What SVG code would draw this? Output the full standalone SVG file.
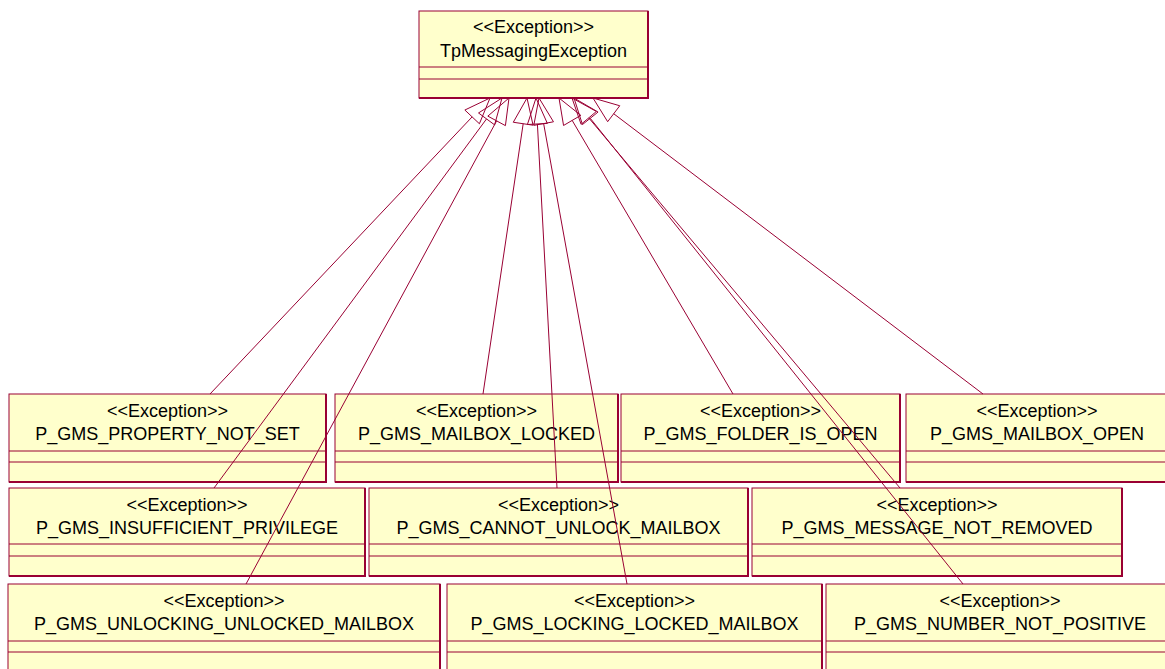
<svg xmlns="http://www.w3.org/2000/svg" width="1165" height="669" viewBox="0 0 1165 669">
<style>
.box{fill:#FFFFCC;stroke:#990033;stroke-width:1}
.sh{fill:none;stroke:#990033;stroke-width:2}
.sep{stroke:#990033;stroke-width:1}
.t{font-family:"Liberation Sans",Arial,sans-serif;font-size:18px;fill:#000;text-anchor:middle}
.ln{stroke:#990033;stroke-width:1;fill:none}
.ah{stroke:#990033;stroke-width:1;fill:none}
</style>
<rect width="1165" height="669" fill="#fff"/>
<g id="TpMessagingException">
<rect class="box" x="419" y="11" width="229" height="87"/>
<polyline class="sh" points="648,11 648,98 419,98"/>
<line class="sep" x1="419" y1="67" x2="648" y2="67"/><line class="sep" x1="419" y1="79" x2="648" y2="79"/>
<text class="t" x="533.5" y="33">&lt;&lt;Exception&gt;&gt;</text>
<text class="t" x="533.5" y="57">TpMessagingException</text>
</g>
<g id="P_GMS_PROPERTY_NOT_SET">
<rect class="box" x="9" y="394" width="317" height="88"/>
<polyline class="sh" points="326,394 326,482 9,482"/>
<line class="sep" x1="9" y1="451" x2="326" y2="451"/><line class="sep" x1="9" y1="462" x2="326" y2="462"/>
<text class="t" x="167.5" y="417">&lt;&lt;Exception&gt;&gt;</text>
<text class="t" x="167.5" y="440">P_GMS_PROPERTY_NOT_SET</text>
</g>
<g id="P_GMS_MAILBOX_LOCKED">
<rect class="box" x="335" y="394" width="283" height="88"/>
<polyline class="sh" points="618,394 618,482 335,482"/>
<line class="sep" x1="335" y1="451" x2="618" y2="451"/><line class="sep" x1="335" y1="462" x2="618" y2="462"/>
<text class="t" x="476.5" y="417">&lt;&lt;Exception&gt;&gt;</text>
<text class="t" x="476.5" y="440">P_GMS_MAILBOX_LOCKED</text>
</g>
<g id="P_GMS_FOLDER_IS_OPEN">
<rect class="box" x="621" y="394" width="279" height="88"/>
<polyline class="sh" points="900,394 900,482 621,482"/>
<line class="sep" x1="621" y1="451" x2="900" y2="451"/><line class="sep" x1="621" y1="462" x2="900" y2="462"/>
<text class="t" x="760.5" y="417">&lt;&lt;Exception&gt;&gt;</text>
<text class="t" x="760.5" y="440">P_GMS_FOLDER_IS_OPEN</text>
</g>
<g id="P_GMS_MAILBOX_OPEN">
<rect class="box" x="906" y="394" width="262" height="88"/>
<polyline class="sh" points="1168,394 1168,482 906,482"/>
<line class="sep" x1="906" y1="451" x2="1168" y2="451"/><line class="sep" x1="906" y1="462" x2="1168" y2="462"/>
<text class="t" x="1037" y="417">&lt;&lt;Exception&gt;&gt;</text>
<text class="t" x="1037" y="440">P_GMS_MAILBOX_OPEN</text>
</g>
<g id="P_GMS_INSUFFICIENT_PRIVILEGE">
<rect class="box" x="9" y="488" width="356" height="88"/>
<polyline class="sh" points="365,488 365,576 9,576"/>
<line class="sep" x1="9" y1="544" x2="365" y2="544"/><line class="sep" x1="9" y1="556" x2="365" y2="556"/>
<text class="t" x="187" y="511">&lt;&lt;Exception&gt;&gt;</text>
<text class="t" x="187" y="534">P_GMS_INSUFFICIENT_PRIVILEGE</text>
</g>
<g id="P_GMS_CANNOT_UNLOCK_MAILBOX">
<rect class="box" x="369" y="488" width="379" height="88"/>
<polyline class="sh" points="748,488 748,576 369,576"/>
<line class="sep" x1="369" y1="544" x2="748" y2="544"/><line class="sep" x1="369" y1="556" x2="748" y2="556"/>
<text class="t" x="558.5" y="511">&lt;&lt;Exception&gt;&gt;</text>
<text class="t" x="558.5" y="534">P_GMS_CANNOT_UNLOCK_MAILBOX</text>
</g>
<g id="P_GMS_MESSAGE_NOT_REMOVED">
<rect class="box" x="752" y="488" width="370" height="88"/>
<polyline class="sh" points="1122,488 1122,576 752,576"/>
<line class="sep" x1="752" y1="544" x2="1122" y2="544"/><line class="sep" x1="752" y1="556" x2="1122" y2="556"/>
<text class="t" x="937" y="511">&lt;&lt;Exception&gt;&gt;</text>
<text class="t" x="937" y="534">P_GMS_MESSAGE_NOT_REMOVED</text>
</g>
<g id="P_GMS_UNLOCKING_UNLOCKED_MAILBOX">
<rect class="box" x="8" y="584" width="432" height="88"/>
<polyline class="sh" points="440,584 440,672"/>
<line class="sep" x1="8" y1="641" x2="440" y2="641"/><line class="sep" x1="8" y1="652" x2="440" y2="652"/>
<text class="t" x="224" y="607">&lt;&lt;Exception&gt;&gt;</text>
<text class="t" x="224" y="630">P_GMS_UNLOCKING_UNLOCKED_MAILBOX</text>
</g>
<g id="P_GMS_LOCKING_LOCKED_MAILBOX">
<rect class="box" x="447" y="584" width="375" height="88"/>
<polyline class="sh" points="822,584 822,672"/>
<line class="sep" x1="447" y1="641" x2="822" y2="641"/><line class="sep" x1="447" y1="652" x2="822" y2="652"/>
<text class="t" x="634.5" y="607">&lt;&lt;Exception&gt;&gt;</text>
<text class="t" x="634.5" y="630">P_GMS_LOCKING_LOCKED_MAILBOX</text>
</g>
<g id="P_GMS_NUMBER_NOT_POSITIVE">
<rect class="box" x="826" y="584" width="346" height="88"/>
<line class="sep" x1="826" y1="641" x2="1172" y2="641"/><line class="sep" x1="826" y1="652" x2="1172" y2="652"/>
<text class="t" x="1000" y="607">&lt;&lt;Exception&gt;&gt;</text>
<text class="t" x="1000" y="630">P_GMS_NUMBER_NOT_POSITIVE</text>
</g>
<g id="connectors">
<line class="ln" x1="210" y1="394" x2="472.13" y2="116.89"/>
<polygon class="ah" points="490,98 464.87,110.02 479.40,123.76"/>
<line class="ln" x1="214" y1="488" x2="486.55" y2="118.92"/>
<polygon class="ah" points="502,98 478.51,112.98 494.60,124.86"/>
<line class="ln" x1="246" y1="584" x2="496.63" y2="120.87"/>
<polygon class="ah" points="509,98 487.83,116.11 505.42,125.63"/>
<line class="ln" x1="483" y1="394" x2="523.18" y2="123.72"/>
<polygon class="ah" points="527,98 513.29,122.25 533.07,125.19"/>
<line class="ln" x1="557" y1="488" x2="537.40" y2="123.96"/>
<polygon class="ah" points="536,98 527.41,124.50 547.39,123.42"/>
<line class="ln" x1="627" y1="584" x2="543.63" y2="123.58"/>
<polygon class="ah" points="539,98 533.79,125.36 553.47,121.80"/>
<line class="ln" x1="733" y1="394" x2="572.18" y2="120.41"/>
<polygon class="ah" points="559,98 563.56,125.48 580.80,115.34"/>
<line class="ln" x1="900" y1="488" x2="588.74" y2="117.90"/>
<polygon class="ah" points="572,98 581.09,124.34 596.39,111.46"/>
<line class="ln" x1="963" y1="584" x2="590.25" y2="118.30"/>
<polygon class="ah" points="574,98 582.44,124.55 598.06,112.05"/>
<line class="ln" x1="983" y1="394" x2="613.71" y2="113.72"/>
<polygon class="ah" points="593,98 607.66,121.69 619.76,105.75"/>
</g>
</svg>
